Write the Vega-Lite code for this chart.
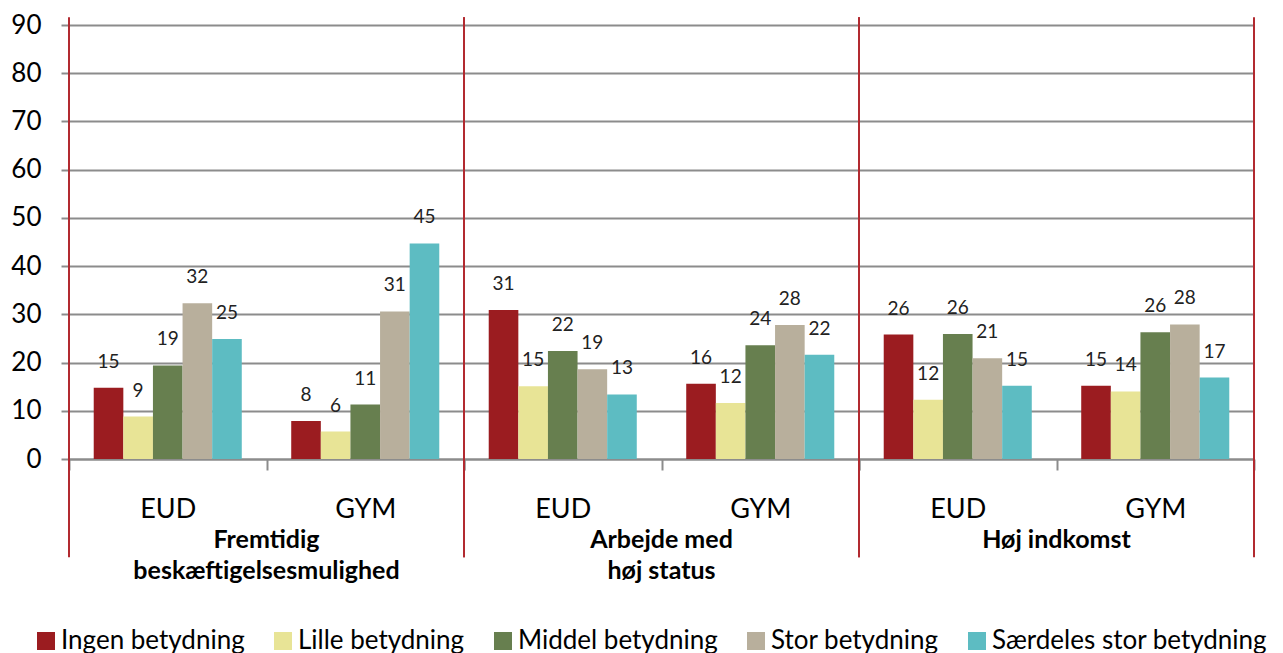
{
  "$schema": "https://vega.github.io/schema/vega-lite/v6.json",
  "padding": {"left": 10, "top": 12, "right": 5, "bottom": 0},
  "bounds": "flush",
  "data": {"values": [
    {"group": "Fremtidig|beskæftigelsesmulighed", "edu": "EUD", "series": "Ingen betydning", "value": 14.8},
    {"group": "Fremtidig|beskæftigelsesmulighed", "edu": "EUD", "series": "Lille betydning", "value": 8.8},
    {"group": "Fremtidig|beskæftigelsesmulighed", "edu": "EUD", "series": "Middel betydning", "value": 19.4},
    {"group": "Fremtidig|beskæftigelsesmulighed", "edu": "EUD", "series": "Stor betydning", "value": 32.3},
    {"group": "Fremtidig|beskæftigelsesmulighed", "edu": "EUD", "series": "Særdeles stor betydning", "value": 24.9},
    {"group": "Fremtidig|beskæftigelsesmulighed", "edu": "GYM", "series": "Ingen betydning", "value": 7.9},
    {"group": "Fremtidig|beskæftigelsesmulighed", "edu": "GYM", "series": "Lille betydning", "value": 5.7},
    {"group": "Fremtidig|beskæftigelsesmulighed", "edu": "GYM", "series": "Middel betydning", "value": 11.3},
    {"group": "Fremtidig|beskæftigelsesmulighed", "edu": "GYM", "series": "Stor betydning", "value": 30.6},
    {"group": "Fremtidig|beskæftigelsesmulighed", "edu": "GYM", "series": "Særdeles stor betydning", "value": 44.7},
    {"group": "Arbejde med|høj status", "edu": "EUD", "series": "Ingen betydning", "value": 30.9},
    {"group": "Arbejde med|høj status", "edu": "EUD", "series": "Lille betydning", "value": 15.1},
    {"group": "Arbejde med|høj status", "edu": "EUD", "series": "Middel betydning", "value": 22.4},
    {"group": "Arbejde med|høj status", "edu": "EUD", "series": "Stor betydning", "value": 18.6},
    {"group": "Arbejde med|høj status", "edu": "EUD", "series": "Særdeles stor betydning", "value": 13.4},
    {"group": "Arbejde med|høj status", "edu": "GYM", "series": "Ingen betydning", "value": 15.6},
    {"group": "Arbejde med|høj status", "edu": "GYM", "series": "Lille betydning", "value": 11.6},
    {"group": "Arbejde med|høj status", "edu": "GYM", "series": "Middel betydning", "value": 23.6},
    {"group": "Arbejde med|høj status", "edu": "GYM", "series": "Stor betydning", "value": 27.8},
    {"group": "Arbejde med|høj status", "edu": "GYM", "series": "Særdeles stor betydning", "value": 21.6},
    {"group": "Høj indkomst", "edu": "EUD", "series": "Ingen betydning", "value": 25.8},
    {"group": "Høj indkomst", "edu": "EUD", "series": "Lille betydning", "value": 12.3},
    {"group": "Høj indkomst", "edu": "EUD", "series": "Middel betydning", "value": 25.9},
    {"group": "Høj indkomst", "edu": "EUD", "series": "Stor betydning", "value": 20.9},
    {"group": "Høj indkomst", "edu": "EUD", "series": "Særdeles stor betydning", "value": 15.2},
    {"group": "Høj indkomst", "edu": "GYM", "series": "Ingen betydning", "value": 15.2},
    {"group": "Høj indkomst", "edu": "GYM", "series": "Lille betydning", "value": 14.0},
    {"group": "Høj indkomst", "edu": "GYM", "series": "Middel betydning", "value": 26.3},
    {"group": "Høj indkomst", "edu": "GYM", "series": "Stor betydning", "value": 27.9},
    {"group": "Høj indkomst", "edu": "GYM", "series": "Særdeles stor betydning", "value": 16.9}
  ]},
  "facet": {
    "column": {
      "field": "group", "type": "nominal",
      "sort": ["Fremtidig|beskæftigelsesmulighed", "Arbejde med|høj status", "Høj indkomst"],
      "header": {
        "title": null, "labelOrient": "bottom", "labelExpr": "split(datum.value, '|')",
        "labelFont": "Lato", "labelFontSize": 25, "labelFontWeight": "bold", "labelColor": "#000000",
        "labelPadding": 6, "labelLineHeight": 31
      }
    }
  },
  "spacing": 0,
  "spec": {
    "width": 395,
    "height": 434,
    "layer": [
      {
        "mark": {"type": "bar"},
        "encoding": {
          "x": {"field": "edu", "type": "nominal", "scale": {"paddingInner": 0, "paddingOuter": 0},
                "axis": {"title": null, "domain": true, "domainColor": "#8C8C8C", "domainWidth": 2, "ticks": true, "tickBand": "extent", "tickSize": 11, "tickColor": "#8C8C8C", "tickWidth": 2, "labelFontSize": 27, "labelPadding": 26, "labelAngle": 0, "labelColor": "#000000", "grid": false}},
          "xOffset": {"field": "series", "type": "nominal", "sort": ["Ingen betydning", "Lille betydning", "Middel betydning", "Stor betydning", "Særdeles stor betydning"], "scale": {"paddingOuter": 0.835, "paddingInner": 0}},
          "y": {"field": "value", "type": "quantitative", "scale": {"domain": [0, 90], "nice": false},
                "axis": {"title": null, "values": [0, 10, 20, 30, 40, 50, 60, 70, 80, 90], "domain": false, "tickSize": 8, "tickColor": "#8C8C8C", "tickWidth": 2, "gridColor": "#8C8C8C", "gridWidth": 2, "labelFontSize": 26, "labelPadding": 20, "labelColor": "#000000"}},
          "color": {"field": "series", "type": "nominal",
                    "scale": {"domain": ["Ingen betydning", "Lille betydning", "Middel betydning", "Stor betydning", "Særdeles stor betydning"], "range": ["#9B1C20", "#E8E496", "#677F4F", "#B8AF9C", "#5DBCC2"]},
                    "legend": {"title": null, "orient": "none", "legendX": -36, "legendY": 603, "direction": "horizontal", "columns": 5, "symbolType": "square", "symbolSize": 324, "symbolStrokeWidth": 0, "symbolOpacity": 1, "labelFontSize": 26, "labelFont": "Lato", "labelColor": "#000000", "labelLimit": 0, "columnPadding": 25, "labelOffset": 2}}
        }
      },
      {
        "mark": {"type": "text", "baseline": "alphabetic", "dy": -20, "fontSize": 19, "font": "Lato", "color": "#222222"},
        "encoding": {
          "x": {"field": "edu", "type": "nominal"},
          "xOffset": {"field": "series", "type": "nominal", "sort": ["Ingen betydning", "Lille betydning", "Middel betydning", "Stor betydning", "Særdeles stor betydning"]},
          "y": {"field": "value", "type": "quantitative"},
          "text": {"field": "value", "type": "quantitative", "format": ".0f"}
        }
      },
      {
        "transform": [{"filter": "datum.series == 'Ingen betydning' && datum.edu == 'EUD'"}],
        "mark": {"type": "rule", "color": "#B22A30", "strokeWidth": 2},
        "encoding": {
          "x": {"field": "edu", "type": "nominal", "bandPosition": 0},
          "y": {"datum": 91.6},
          "y2": {"datum": -20.4}
        }
      },
      {
        "transform": [{"filter": "datum.series == 'Ingen betydning' && datum.edu == 'GYM'"}],
        "mark": {"type": "rule", "color": "#B22A30", "strokeWidth": 2},
        "encoding": {
          "x": {"field": "edu", "type": "nominal", "bandPosition": 1},
          "y": {"datum": 91.6},
          "y2": {"datum": -20.4}
        }
      }
    ]
  },
  "config": {
    "font": "Lato",
    "view": {"stroke": null},
    "background": "#ffffff"
  }
}
